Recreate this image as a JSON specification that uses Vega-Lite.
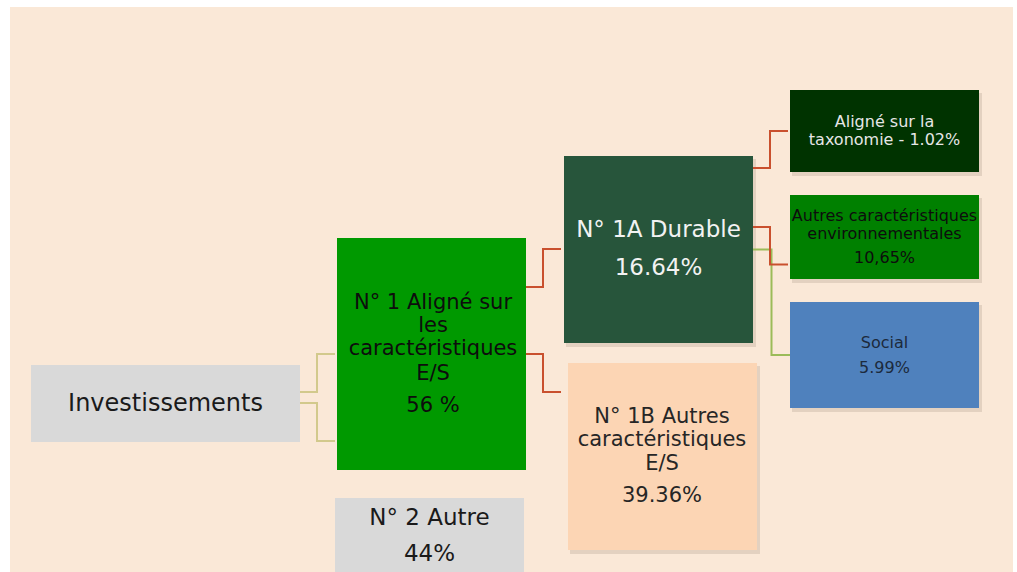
{
  "$schema": "https://vega.github.io/schema/vega-lite/v6.json",
  "width": 1017,
  "height": 572,
  "autosize": {"type": "none"},
  "padding": 0,
  "background": "#ffffff",
  "config": {"view": {"stroke": null}},
  "datasets": {
    "panel": [{"x1": 10, "x2": 1013, "y1": 7, "y2": 572}],
    "nodes": [
      {"node": "Investissements", "x1": 31, "x2": 300, "y1": 365, "y2": 442, "shadow": "no"},
      {"node": "N1", "x1": 337, "x2": 526, "y1": 238, "y2": 470, "shadow": "no"},
      {"node": "N2", "x1": 335, "x2": 524, "y1": 498, "y2": 572, "shadow": "no"},
      {"node": "N1A", "x1": 564, "x2": 753, "y1": 156, "y2": 343, "shadow": "yes"},
      {"node": "N1B", "x1": 568, "x2": 757, "y1": 363, "y2": 550, "shadow": "yes"},
      {"node": "Tax", "x1": 790, "x2": 979, "y1": 90, "y2": 172, "shadow": "yes"},
      {"node": "Env", "x1": 790, "x2": 979, "y1": 195, "y2": 279, "shadow": "yes"},
      {"node": "Social", "x1": 790, "x2": 979, "y1": 302, "y2": 408, "shadow": "yes"}
    ],
    "links": [
      {"conn": "c1", "kind": "tan", "ord": 1, "x": 300, "y": 392},
      {"conn": "c1", "kind": "tan", "ord": 2, "x": 317, "y": 392},
      {"conn": "c1", "kind": "tan", "ord": 3, "x": 317, "y": 354},
      {"conn": "c1", "kind": "tan", "ord": 4, "x": 335, "y": 354},
      {"conn": "c2", "kind": "tan", "ord": 1, "x": 300, "y": 403},
      {"conn": "c2", "kind": "tan", "ord": 2, "x": 317, "y": 403},
      {"conn": "c2", "kind": "tan", "ord": 3, "x": 317, "y": 441},
      {"conn": "c2", "kind": "tan", "ord": 4, "x": 335, "y": 441},
      {"conn": "c7", "kind": "green", "ord": 1, "x": 753, "y": 249.5},
      {"conn": "c7", "kind": "green", "ord": 2, "x": 771.5, "y": 249.5},
      {"conn": "c7", "kind": "green", "ord": 3, "x": 771.5, "y": 355},
      {"conn": "c7", "kind": "green", "ord": 4, "x": 790, "y": 355},
      {"conn": "c3", "kind": "red", "ord": 1, "x": 526, "y": 287},
      {"conn": "c3", "kind": "red", "ord": 2, "x": 543, "y": 287},
      {"conn": "c3", "kind": "red", "ord": 3, "x": 543, "y": 249},
      {"conn": "c3", "kind": "red", "ord": 4, "x": 561, "y": 249},
      {"conn": "c4", "kind": "red", "ord": 1, "x": 526, "y": 354},
      {"conn": "c4", "kind": "red", "ord": 2, "x": 543, "y": 354},
      {"conn": "c4", "kind": "red", "ord": 3, "x": 543, "y": 392},
      {"conn": "c4", "kind": "red", "ord": 4, "x": 561, "y": 392},
      {"conn": "c5", "kind": "red", "ord": 1, "x": 753, "y": 168},
      {"conn": "c5", "kind": "red", "ord": 2, "x": 770, "y": 168},
      {"conn": "c5", "kind": "red", "ord": 3, "x": 770, "y": 131},
      {"conn": "c5", "kind": "red", "ord": 4, "x": 788, "y": 131},
      {"conn": "c6", "kind": "red", "ord": 1, "x": 753, "y": 227},
      {"conn": "c6", "kind": "red", "ord": 2, "x": 770, "y": 227},
      {"conn": "c6", "kind": "red", "ord": 3, "x": 770, "y": 264.5},
      {"conn": "c6", "kind": "red", "ord": 4, "x": 788, "y": 264.5}
    ],
    "labels": [
      {"node": "Investissements", "lvl": "a", "text": "Investissements", "x": 165.5, "y": 411},
      {"node": "N1", "lvl": "c", "text": "N° 1 Aligné sur", "x": 433, "y": 309},
      {"node": "N1", "lvl": "c", "text": "les", "x": 433, "y": 332},
      {"node": "N1", "lvl": "c", "text": "caractéristiques", "x": 433, "y": 355},
      {"node": "N1", "lvl": "c", "text": "E/S", "x": 433, "y": 380},
      {"node": "N1", "lvl": "c", "text": "56 %", "x": 433, "y": 412},
      {"node": "N1A", "lvl": "b", "text": "N° 1A Durable", "x": 658.5, "y": 237},
      {"node": "N1A", "lvl": "b", "text": "16.64%", "x": 658.5, "y": 275},
      {"node": "N1B", "lvl": "c", "text": "N° 1B Autres", "x": 662, "y": 423},
      {"node": "N1B", "lvl": "c", "text": "caractéristiques", "x": 662, "y": 445.5},
      {"node": "N1B", "lvl": "c", "text": "E/S", "x": 662, "y": 470},
      {"node": "N1B", "lvl": "c", "text": "39.36%", "x": 662, "y": 502},
      {"node": "Tax", "lvl": "d", "text": "Aligné sur la", "x": 884.5, "y": 127},
      {"node": "Tax", "lvl": "d", "text": "taxonomie - 1.02%", "x": 884.5, "y": 145},
      {"node": "Env", "lvl": "d", "text": "Autres caractéristiques", "x": 884.5, "y": 221},
      {"node": "Env", "lvl": "d", "text": "environnementales", "x": 884.5, "y": 239},
      {"node": "Env", "lvl": "d", "text": "10,65%", "x": 884.5, "y": 263},
      {"node": "Social", "lvl": "d", "text": "Social", "x": 884.5, "y": 348},
      {"node": "Social", "lvl": "d", "text": "5.99%", "x": 884.5, "y": 373},
      {"node": "N2", "lvl": "b", "text": "N° 2 Autre", "x": 429.5, "y": 525},
      {"node": "N2", "lvl": "b", "text": "44%", "x": 429.5, "y": 561}
    ]
  },
  "layer": [
    {
      "data": {"name": "panel"},
      "mark": {"type": "rect", "color": "#fae8d7"},
      "encoding": {
        "x": {"field": "x1", "type": "quantitative", "scale": {"domain": [0, 1017], "nice": false, "zero": false}, "axis": null},
        "x2": {"field": "x2"},
        "y": {"field": "y1", "type": "quantitative", "scale": {"domain": [0, 572], "nice": false, "zero": false, "reverse": true}, "axis": null},
        "y2": {"field": "y2"}
      }
    },
    {
      "data": {"name": "nodes"},
      "transform": [{"filter": "datum.shadow == 'yes'"}],
      "mark": {"type": "rect", "color": "#7a6a5a", "opacity": 0.18, "xOffset": 2, "x2Offset": 3, "yOffset": 3, "y2Offset": 4},
      "encoding": {
        "x": {"field": "x1", "type": "quantitative", "axis": null},
        "x2": {"field": "x2"},
        "y": {"field": "y1", "type": "quantitative", "axis": null},
        "y2": {"field": "y2"}
      }
    },
    {
      "data": {"name": "links"},
      "mark": {"type": "line", "strokeWidth": 2, "strokeJoin": "miter", "strokeCap": "butt"},
      "encoding": {
        "x": {"field": "x", "type": "quantitative", "axis": null},
        "y": {"field": "y", "type": "quantitative", "axis": null},
        "detail": {"field": "conn"},
        "order": {"field": "ord", "type": "quantitative"},
        "stroke": {"field": "kind", "type": "nominal", "legend": null, "scale": {"domain": ["tan", "red", "green"], "range": ["#d2c98c", "#c9502e", "#9bbb59"]}}
      }
    },
    {
      "data": {"name": "nodes"},
      "mark": {"type": "rect"},
      "encoding": {
        "x": {"field": "x1", "type": "quantitative", "axis": null},
        "x2": {"field": "x2"},
        "y": {"field": "y1", "type": "quantitative", "axis": null},
        "y2": {"field": "y2"},
        "fill": {"field": "node", "type": "nominal", "legend": null, "scale": {"domain": ["Investissements", "N1", "N2", "N1A", "N1B", "Tax", "Env", "Social"], "range": ["#d9d9d9", "#009900", "#d9d9d9", "#27553b", "#fcd5b4", "#003300", "#008000", "#4f81bd"]}}
      }
    },
    {
      "data": {"name": "labels"},
      "mark": {"type": "text", "font": "DejaVu Sans", "align": "center", "baseline": "alphabetic"},
      "encoding": {
        "x": {"field": "x", "type": "quantitative", "axis": null},
        "y": {"field": "y", "type": "quantitative", "axis": null},
        "text": {"field": "text"},
        "size": {"field": "lvl", "type": "nominal", "legend": null, "scale": {"type": "ordinal", "domain": ["a", "b", "c", "d"], "range": [24, 23, 21, 16]}},
        "color": {"field": "node", "type": "nominal", "legend": null, "scale": {"domain": ["Investissements", "N1", "N2", "N1A", "N1B", "Tax", "Env", "Social"], "range": ["#1a1a1a", "#0d0d0d", "#1a1a1a", "#f2f2f2", "#262626", "#e6e6e6", "#0d0d0d", "#1c2a3c"]}}
      }
    }
  ]
}
